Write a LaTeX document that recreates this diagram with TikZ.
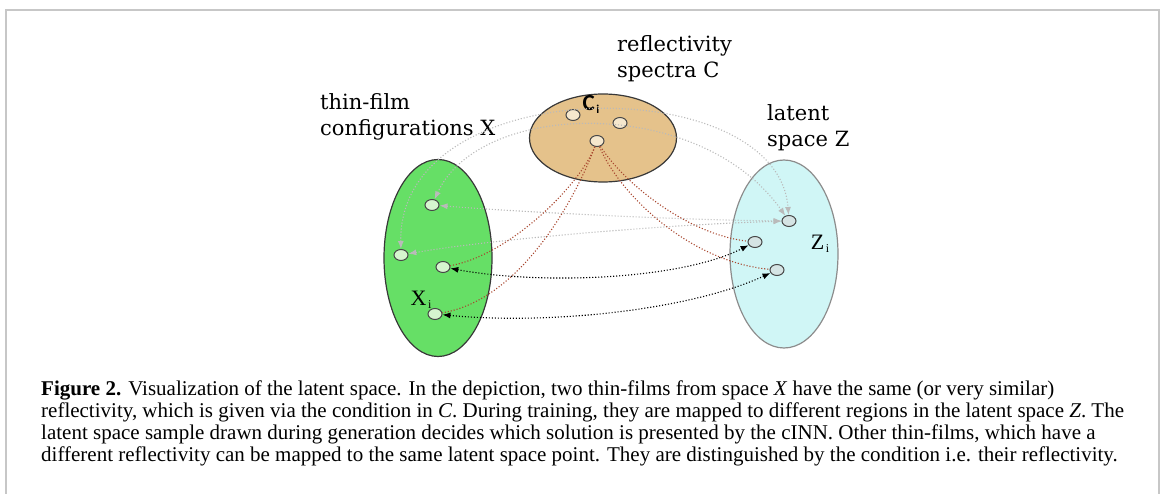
\documentclass[tikz,border=0pt]{standalone}
\usepackage{fontspec}
\setmainfont{Liberation Serif}
\newfontfamily\labelfont{DejaVu Serif}
\newfontfamily\cfont{Carlito}
\usetikzlibrary{shapes.geometric,arrows.meta}
\definecolor{xfill}{HTML}{66DF66}
\definecolor{cfill}{HTML}{E5C28B}
\definecolor{zfill}{HTML}{D0F6F6}
\definecolor{xdot}{HTML}{D6F5CF}
\definecolor{cdot}{HTML}{F5E7CD}
\definecolor{zdot}{HTML}{D5E4E4}
\definecolor{condred}{HTML}{A8462E}
\newcommand{\sub}[1]{\kern1.5pt\raisebox{-3pt}{\fontsize{12}{12}\selectfont #1}}
\begin{document}
\begin{tikzpicture}[x=1pt,y=-1pt,
    space/.style={ellipse, draw=black!78, line width=1.2pt, inner sep=0pt},
    smp/.style={ellipse, draw=black!72, line width=1pt, minimum width=14pt, minimum height=11pt, inner sep=0pt},
    dots/.style={line width=1.1pt, dash pattern=on 1.1pt off 1.9pt},
    otherlink/.style={dots, draw=black!27, {Latex[length=8pt,width=6pt]}-{Latex[length=8pt,width=6pt]}},
    condlink/.style={dots, draw=condred},
    maplink/.style={dots, draw=black, {Latex[length=8pt,width=6pt]}-{Latex[length=8pt,width=6pt]}},
    spacelabel/.style={anchor=north west, align=left, inner sep=0pt, font=\labelfont\fontsize{21}{26}\selectfont}]
  \useasboundingbox (0,0) rectangle (1165,494);
  \draw[black!22, line width=2pt] (6,520) -- (6,10) -- (1159,10) -- (1159,520);

  % the three spaces
  \node [space, fill=xfill, minimum width=108pt, minimum height=197pt] (X) at (438,258) {};
  \node [space, fill=cfill, minimum width=147pt, minimum height=88pt] (C) at (603,138) {};
  \node [space, fill=zfill, draw=black!45, minimum width=108pt, minimum height=188pt] (Z) at (784,254) {};

  \node [spacelabel] (Xlab) at (320,93) {thin-film\\configurations X};
  \node [spacelabel] (Clab) at (617,35) {reflectivity\\spectra C};
  \node [spacelabel] (Zlab) at (767,104) {latent\\space Z};

  % samples
  \node [smp, fill=cdot] (c1) at (573,115) {};
  \node [smp, fill=cdot] (c2) at (620,123) {};
  \node [smp, fill=cdot] (c3) at (597,141) {};
  \node [smp, fill=xdot] (x1) at (432,205) {};
  \node [smp, fill=xdot] (x2) at (401,255) {};
  \node [smp, fill=xdot] (x3) at (443,267) {};
  \node [smp, fill=xdot] (x4) at (435,314) {};
  \node [smp, fill=zdot] (z1) at (789,221) {};
  \node [smp, fill=zdot] (z2) at (755,242) {};
  \node [smp, fill=zdot] (z3) at (777,270) {};

  \node (ci) at (591,104) {\cfont\bfseries\fontsize{23}{23}\selectfont C\sub{i}};
  \node (xi) at (421,300) {\fontsize{22}{22}\selectfont X\sub{i}};
  \node (zi) at (820,244) {\fontsize{22}{22}\selectfont Z\sub{i}};

  % other thin-films on the same latent point
  \path [otherlink] (x2) .. controls (398,70) and (778,70) .. (z1);
  \path [otherlink] (x1) .. controls (480,100) and (700,95) .. (z1);
  \path [otherlink] (x1) .. controls (520,212) and (680,220) .. (z1);
  \path [otherlink] (x2) .. controls (500,238) and (680,224) .. (z1);

  % condition
  \path [condlink] (c3) .. controls (580,185) and (510,255) .. (x3);
  \path [condlink] (c3) .. controls (575,200) and (520,300) .. (x4);
  \path [condlink] (c3) .. controls (625,185) and (690,235) .. (z2);
  \path [condlink] (c3) .. controls (620,195) and (690,262) .. (z3);

  % mapping x <-> z
  \path [maplink] (x3) .. controls (540,285) and (680,280) .. (z2);
  \path [maplink] (x4) .. controls (550,325) and (690,310) .. (z3);

  \node [anchor=north west, align=left, inner sep=0pt, font=\fontsize{21}{21.7}\selectfont] (cap) at (41,381)
    {\textbf{Figure 2.} Visualization of the latent space. In the depiction, two thin-films from space \textit{X} have the same (or very similar)\\
     reflectivity, which is given via the condition in \textit{C}. During training, they are mapped to different regions in the latent space \textit{Z}. The\\
     latent space sample drawn during generation decides which solution is presented by the cINN. Other thin-films, which have a\\
     different reflectivity can be mapped to the same latent space point. They are distinguished by the condition i.e. their reflectivity.};
\end{tikzpicture}
\end{document}
